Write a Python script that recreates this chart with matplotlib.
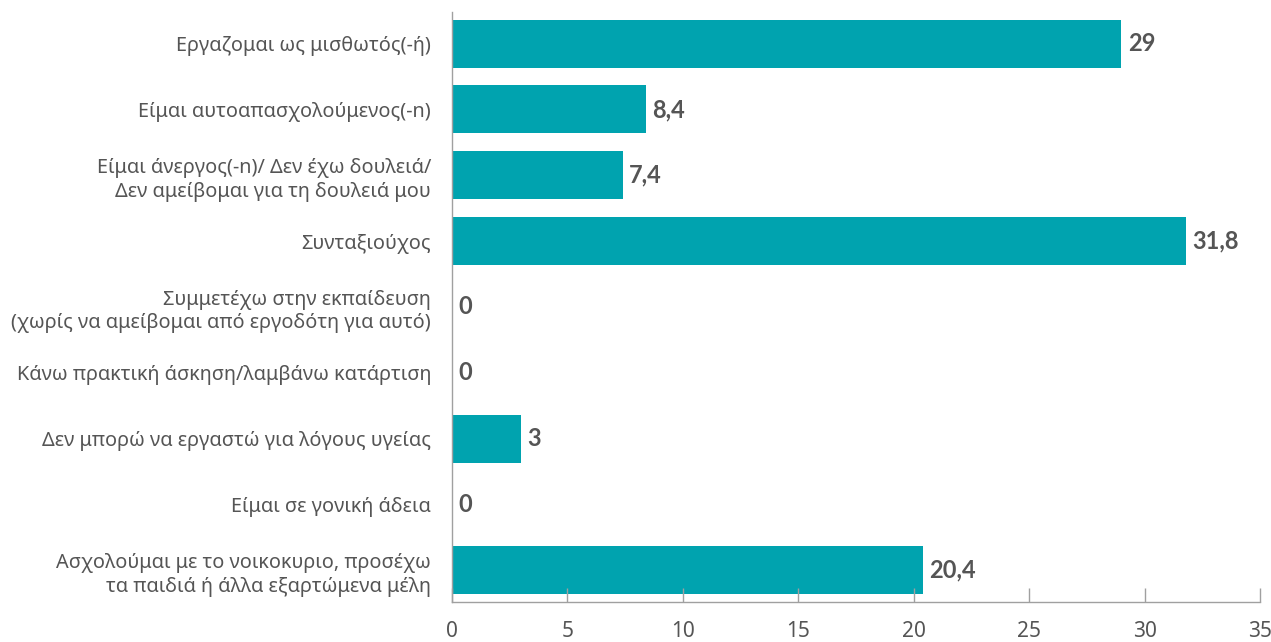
import matplotlib
matplotlib.use("Agg")
import matplotlib.pyplot as plt

plt.rcParams['font.family'] = ['Noto Sans', 'DejaVu Sans']

categories = [
    "Εργαζομαι ως μισθωτός(-ή)",
    "Είμαι αυτοαπασχολούμενος(-n)",
    "Είμαι άνεργος(-n)/ Δεν έχω δουλειά/\nΔεν αμείβομαι για τη δουλειά μου",
    "Συνταξιούχος",
    "Συμμετέχω στην εκπαίδευση\n(χωρίς να αμείβομαι από εργοδότη για αυτό)",
    "Κάνω πρακτική άσκηση/λαμβάνω κατάρτιση",
    "Δεν μπορώ να εργαστώ για λόγους υγείας",
    "Είμαι σε γονική άδεια",
    "Ασχολούμαι με το νοικοκυριο, προσέχω\nτα παιδιά ή άλλα εξαρτώμενα μέλη",
]
values = [29, 8.4, 7.4, 31.8, 0, 0, 3, 0, 20.4]
value_labels = ["29", "8,4", "7,4", "31,8", "0", "0", "3", "0", "20,4"]
xticks = [0, 5, 10, 15, 20, 25, 30, 35]

bar_color = "#00A3AF"
text_color = "#555555"
axis_color = "#A0A0A0"

fig = plt.figure(figsize=(12.71, 6.42), dpi=100)
ax = fig.add_axes([452/1271, 1 - 602/642, (1260 - 452)/1271, (602 - 12)/642])

y = list(range(len(categories)))
ax.barh(y, values, height=0.73, color=bar_color)
ax.set_ylim(8.48, -0.48)
ax.set_xlim(0, 35)

for yi, v, lab in zip(y, values, value_labels):
    ax.text(v + 0.28, yi, lab, va='center', ha='left', fontsize=17,
            fontweight='bold', color=text_color, family=['Lato', 'DejaVu Sans'])

ax.set_yticks(y)
ax.set_yticklabels(categories, fontsize=14.3, color=text_color, linespacing=1.25)
ax.tick_params(axis='y', length=0, pad=15)
for t in ax.get_yticklabels():
    t.set_horizontalalignment('right')
    t.set_multialignment('right')

ax.set_xticks(xticks)
ax.set_xticklabels([str(x) for x in xticks], fontsize=15, color=text_color)
for t in ax.get_xticklabels():
    t.set_family(['Liberation Sans Narrow', 'Noto Sans', 'DejaVu Sans'])
ax.tick_params(axis='x', direction='in', length=10, width=1, color=axis_color, pad=14)

for s in ['top', 'right']:
    ax.spines[s].set_visible(False)
for s in ['left', 'bottom']:
    ax.spines[s].set_color(axis_color)
    ax.spines[s].set_linewidth(1)

fig.savefig("out.png", dpi=100)
